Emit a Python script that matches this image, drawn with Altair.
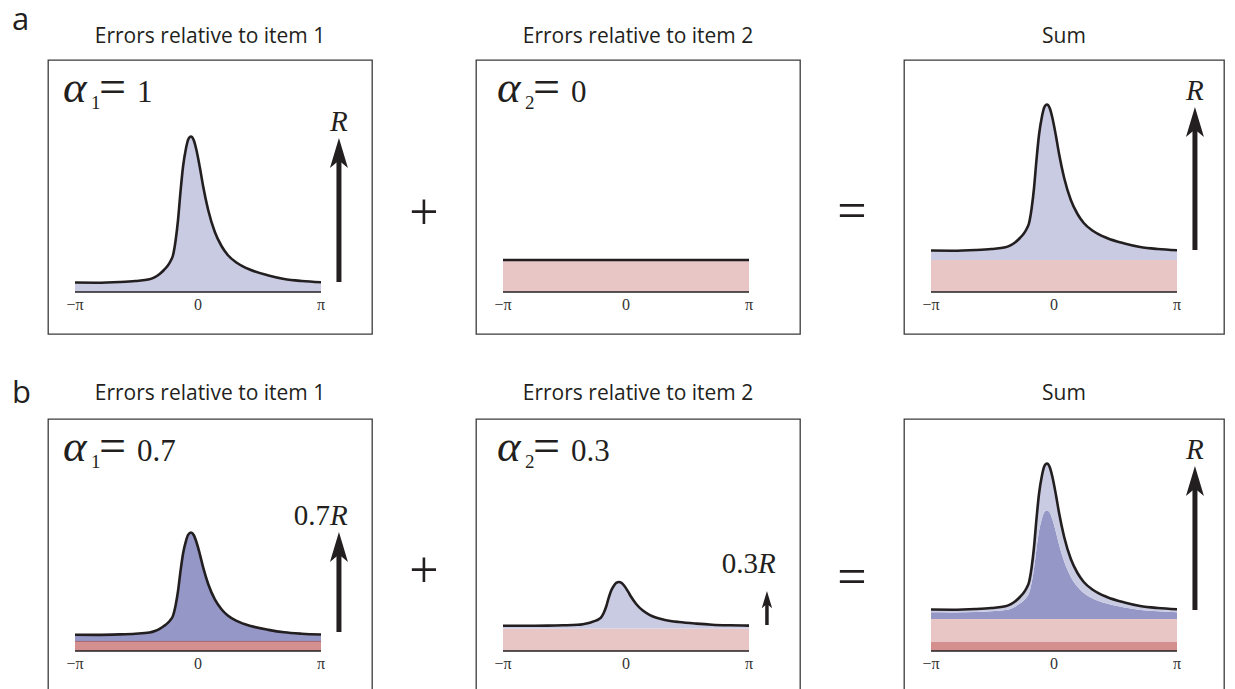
import altair as alt
import pandas as pd

# ---------------- values ----------------
angle = [-3.14159, -2.6, -2.0, -1.6, -1.24, -1.1, -0.98, -0.87, -0.77, -0.70, -0.64, -0.57,
         -0.51, -0.45, -0.38, -0.31, -0.25, -0.18, -0.11, -0.04, 0.05, 0.13, 0.26, 0.43,
         0.60, 0.76, 1.0, 1.35, 1.8, 2.2, 2.65, 3.14159]
error_curve = [9.5, 9.3, 10.0, 11.0, 12.7, 14.8, 18, 22, 26.5, 31, 36.5, 52,
               72, 99, 126, 143, 152.5, 155.5, 152, 142, 124, 106, 82, 60,
               46, 37, 29, 22, 16.5, 13, 11, 9.8]
uniform_level = 32
tick_values = [-3.14159, 0.0, 3.14159]
tick_labels = ["−π", "0", "π"]
row_letters = ["a", "b"]
panel_titles = ["Errors relative to item 1", "Errors relative to item 2", "Sum"]
alphas_a = [1.0, 0.0]
alphas_b = [0.7, 0.3]
alpha_texts_a = ["1", "0"]
alpha_texts_b = ["0.7", "0.3"]
# arrows: (low, high, prefix text) per panel, None = no arrow
arrows_a = [(10, 154, ""), None, (42, 185, "")]
arrows_b = [(19, 119, "0.7"), (26, 60, "0.3"), (41, 185, "")]

# ---------------- styling ----------------
INK = "#231f20"
LIGHT_BLUE = "#c9cbe3"
DARK_BLUE = "#9597c7"
LIGHT_RED = "#e9c6c6"
DARK_RED = "#d48f8f"
EDGE_RED = "#a8646c"
SERIF = "Liberation Serif"
SANS = "Open Sans"
H = 274
YDOM = [-42, 232]
XDOM = {324: [-3.8312, 4.4442], 320: [-3.8312, 4.3421]}
ARROW_X = 3.6
ARROW_PATH = "M0,0L0.6,2L0,1.5L-0.6,2Z"


def panel(parts, width, title, title_y, sub=None, val=None, alpha_x=15,
          arrow=None, big_arrow=True, letter=None, letter_y=None, op=None, op_y=None,
          edge=None):
    xs = alt.Scale(domain=XDOM[width], nice=False, zero=False)
    ys = alt.Scale(domain=YDOM, nice=False, zero=False)
    rows = []
    for k, (color, mult, const) in enumerate(parts):
        for a, v in zip(angle, error_curve):
            rows.append({"angle": a, "h": mult * v + const, "c": color, "k": k})
    df = pd.DataFrame(rows)
    X = lambda f: alt.X(f, scale=xs, axis=None)
    Y = lambda f: alt.Y(f, scale=ys, axis=None)

    layers = []
    layers.append(alt.Chart(df).mark_area(interpolate="monotone").encode(
        x=X("angle:Q"),
        y=alt.Y("h:Q", stack="zero", scale=ys, axis=None),
        color=alt.Color("c:N", scale=None),
        order=alt.Order("k:Q"),
    ))
    if edge is not None:
        edf = pd.DataFrame({"lo": [tick_values[0]], "hi": [tick_values[-1]], "y": [edge]})
        layers.append(alt.Chart(edf).mark_rule(color=EDGE_RED, strokeWidth=1).encode(
            x=X("lo:Q"), x2="hi:Q", y=Y("y:Q")))
    layers.append(alt.Chart(df).transform_aggregate(
        total="sum(h)", groupby=["angle"]).mark_line(
        interpolate="monotone", color=INK, strokeWidth=2.6).encode(
        x=X("angle:Q"), y=Y("total:Q")))
    base_df = pd.DataFrame({"lo": [tick_values[0]], "hi": [tick_values[-1]], "y": [0]})
    layers.append(alt.Chart(base_df).mark_rule(color=INK, strokeWidth=1.5).encode(
        x=X("lo:Q"), x2="hi:Q", y=Y("y:Q")))
    tick_df = pd.DataFrame({"v": tick_values, "lab": tick_labels, "y": [-13] * 3})
    layers.append(alt.Chart(tick_df).mark_text(
        font=SERIF, fontSize=16, color="#333333", baseline="middle", align="center").encode(
        x=X("v:Q"), y=Y("y:Q"), text="lab:N"))

    if arrow is not None:
        lo, hi, prefix = arrow
        head = 18 if big_arrow else 10
        adf = pd.DataFrame({"x": [ARROW_X], "lo": [lo], "shaft": [hi - head], "hi": [hi],
                            "lab": [hi + (7 if big_arrow else 18)], "R": ["R"], "pre": [prefix]})
        layers.append(alt.Chart(adf).mark_rule(
            color=INK, strokeWidth=5 if big_arrow else 3.5).encode(
            x=X("x:Q"), y=Y("lo:Q"), y2="shaft:Q"))
        layers.append(alt.Chart(adf).mark_point(
            shape=ARROW_PATH, filled=True, opacity=1, strokeWidth=0, color=INK,
            size=900 if big_arrow else 300).encode(x=X("x:Q"), y=Y("hi:Q")))
        layers.append(alt.Chart(adf).mark_text(
            font=SERIF, fontStyle="italic", fontSize=29, color=INK, align="center",
            baseline="alphabetic").encode(x=X("x:Q"), y=Y("lab:Q"), text="R:N"))
        if prefix:
            layers.append(alt.Chart(adf).mark_text(
                font=SERIF, fontSize=29, color=INK, align="right", dx=-9,
                baseline="alphabetic").encode(x=X("x:Q"), y=Y("lab:Q"), text="pre:N"))

    if sub is not None:
        tdf = pd.DataFrame({"a": ["α"], "s": [sub], "e": ["="], "v": [val]})
        layers.append(alt.Chart(tdf).mark_text(
            font=SERIF, fontStyle="italic", fontSize=45, color=INK, align="left",
            baseline="alphabetic").encode(x=alt.value(alpha_x), y=alt.value(42), text="a:N"))
        layers.append(alt.Chart(tdf).mark_text(
            font=SERIF, fontSize=19, color=INK, align="left",
            baseline="alphabetic").encode(x=alt.value(alpha_x + 28), y=alt.value(49), text="s:N"))
        layers.append(alt.Chart(tdf).mark_text(
            font=SERIF, fontSize=48, color=INK, align="left",
            baseline="alphabetic").encode(x=alt.value(alpha_x + 36), y=alt.value(43), text="e:N"))
        layers.append(alt.Chart(tdf).mark_text(
            font=SERIF, fontSize=31, color=INK, align="left",
            baseline="alphabetic").encode(x=alt.value(alpha_x + 74), y=alt.value(42), text="v:N"))

    ttl = pd.DataFrame({"t": [title]})
    layers.append(alt.Chart(ttl).mark_text(
        font=SANS, fontSize=21, color=INK, align="center", baseline="alphabetic").encode(
        x=alt.value(width / 2), y=alt.value(title_y), text="t:N"))

    if letter is not None:
        ldf = pd.DataFrame({"t": [letter]})
        layers.append(alt.Chart(ldf).mark_text(
            font=SANS, fontSize=31, color=INK, align="left", baseline="alphabetic").encode(
            x=alt.value(-36), y=alt.value(letter_y), text="t:N"))
    if op is not None:
        odf = pd.DataFrame({"t": [op]})
        layers.append(alt.Chart(odf).mark_text(
            font=SERIF, fontSize=52, color=INK, align="center", baseline="middle").encode(
            x=alt.value(-52), y=alt.value(op_y), text="t:N"))

    return alt.layer(*layers).properties(width=width, height=H)


U = uniform_level
# ---- row a ----
a1, a2 = alphas_a
pa1 = panel([(LIGHT_BLUE, a1, 0)], 324, panel_titles[0], -17, "1", alpha_texts_a[0], 15,
            arrows_a[0], True, letter=row_letters[0], letter_y=-30)
pa2 = panel([(LIGHT_RED, 0, U * (1 - a2))], 324, panel_titles[1], -17, "2", alpha_texts_a[1], 21,
            arrows_a[1], True, op="+", op_y=153)
pa3 = panel([(LIGHT_RED, 0, U * (1 - a2)), (LIGHT_BLUE, a1, 0)], 320, panel_titles[2], -17,
            arrow=arrows_a[2], op="=", op_y=152)
row_a = alt.hconcat(pa1, pa2, pa3, spacing=104, bounds="flush")

# ---- row b ----
b1, b2 = alphas_b
pb1 = panel([(DARK_RED, 0, U * (1 - b1)), (DARK_BLUE, b1, 0)], 324, panel_titles[0], -19,
            "1", alpha_texts_b[0], 15, arrows_b[0], True, letter=row_letters[1], letter_y=-16,
            edge=U * (1 - b1))
pb2 = panel([(LIGHT_RED, 0, U * (1 - b2)), (LIGHT_BLUE, b2, 0)], 324, panel_titles[1], -19,
            "2", alpha_texts_b[1], 21, arrows_b[1], False, op="+", op_y=152)
pb3 = panel([(DARK_RED, 0, U * (1 - b1)), (LIGHT_RED, 0, U * (1 - b2)),
             (DARK_BLUE, b1, 0), (LIGHT_BLUE, b2, 0)], 320, panel_titles[2], -19,
            arrow=arrows_b[2], op="=", op_y=159)
row_b = alt.hconcat(pb1, pb2, pb3, spacing=104, bounds="flush")

chart = alt.vconcat(row_a, row_b, spacing=42).properties(
    padding={"left": 3, "top": -4, "right": 0, "bottom": 0}
).configure_view(stroke="#3b3b3b", strokeWidth=1.3)

chart.save("out.html", embed_options={"renderer": "svg", "actions": False})
